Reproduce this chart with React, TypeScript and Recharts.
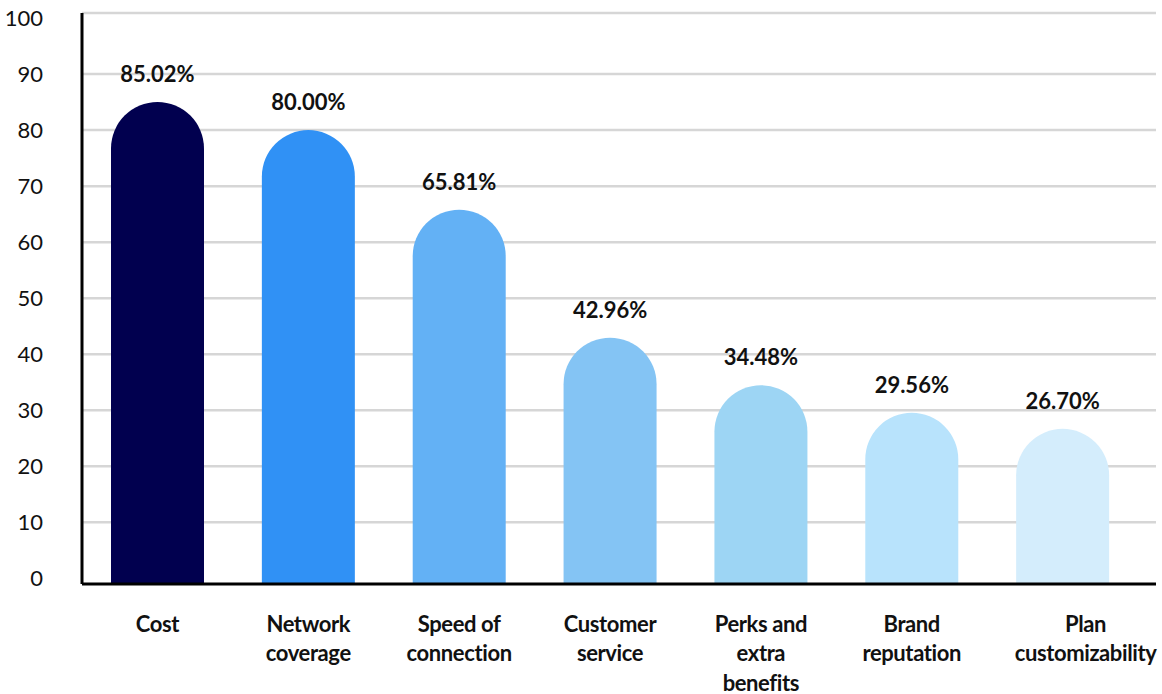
import React from 'react';
import { BarChart, Bar, XAxis, YAxis, CartesianGrid, LabelList, Cell } from 'recharts';

const categories = [
  'Cost',
  'Network coverage',
  'Speed of connection',
  'Customer service',
  'Perks and extra benefits',
  'Brand reputation',
  'Plan customizability',
];
const tickLines = [
  ['Cost'],
  ['Network', 'coverage'],
  ['Speed of', 'connection'],
  ['Customer', 'service'],
  ['Perks and', 'extra', 'benefits'],
  ['Brand', 'reputation'],
  ['Plan', 'customizability'],
];
const shares = [85.02, 80.0, 65.81, 42.96, 34.48, 29.56, 26.7];
const colors = ['#01004F', '#3091F5', '#63B1F5', '#84C4F4', '#9DD5F4', '#B8E3FC', '#D4EDFC'];
const yTicks = [0, 10, 20, 30, 40, 50, 60, 70, 80, 90, 100];
const yDomain = [-1, 100.9];
const gridValues = [10, 20, 30, 40, 50, 60, 70, 80, 90, 100.9];

const data = categories.map((name, i) => ({ name, share: shares[i], lines: tickLines[i] }));

const FONT = 'Lato, "DejaVu Sans", sans-serif';

// rounded-top bar that runs all the way down to the x axis
const PillBar = (props: any) => {
  const { x, y, width, background, index } = props;
  const bottom = background.y + background.height;
  const r = width / 2;
  const d = `M${x},${bottom} L${x},${y + r} A${r},${r} 0 0 1 ${x + width},${y + r} L${x + width},${bottom} Z`;
  return <path d={d} fill={colors[index]} />;
};

const CategoryTick = ({ x, y, index }: any) => {
  const lines = tickLines[index] || [];
  // last label is nudged right in the original
  const shift = index === categories.length - 1 ? 23 : 0;
  return (
    <text
      x={x + shift}
      y={y}
      textAnchor="middle"
      fill="#111"
      fontFamily={FONT}
      fontSize={22}
      fontWeight={700}
      letterSpacing={-0.4}
    >
      {lines.map((l: string, i: number) => (
        <tspan key={i} x={x + shift} dy={i === 0 ? 47.5 : 29.5}>
          {l}
        </tspan>
      ))}
    </text>
  );
};

export default function App() {
  return (
    <div style={{ position: 'absolute', left: 0, top: 0, background: '#fff' }}>
      <BarChart
        width={1162}
        height={694}
        data={data}
        margin={{ top: 13, right: 6, left: 0, bottom: 0 }}
      >
        <CartesianGrid vertical={false} stroke="#d6d6d6" strokeWidth={2.5} horizontalValues={gridValues} />
        <XAxis
          dataKey="name"
          interval={0}
          height={110}
          padding={{ left: 0, right: 18 }}
          axisLine={{ stroke: '#000', strokeWidth: 3 }}
          tickLine={false}
          tickSize={0}
          tickMargin={0}
          tick={<CategoryTick />}
        />
        <YAxis
          type="number"
          domain={yDomain}
          ticks={yTicks}
          allowDataOverflow
          width={82}
          axisLine={{ stroke: '#000', strokeWidth: 3 }}
          tickLine={false}
          tickSize={0}
          tickMargin={39}
          tick={{ fill: '#111', fontSize: 22, fontFamily: FONT }}
        />
        <Bar dataKey="share" barSize={93} shape={<PillBar />} isAnimationActive={false}>
          {data.map((d, i) => (
            <Cell key={d.name} fill={colors[i]} />
          ))}
          <LabelList
            dataKey="share"
            position="top"
            offset={20}
            formatter={(v: any) => `${Number(v).toFixed(2)}%`}
            style={{ fill: '#111', fontSize: 22, fontWeight: 700, fontFamily: FONT }}
          />
        </Bar>
      </BarChart>
    </div>
  );
}
